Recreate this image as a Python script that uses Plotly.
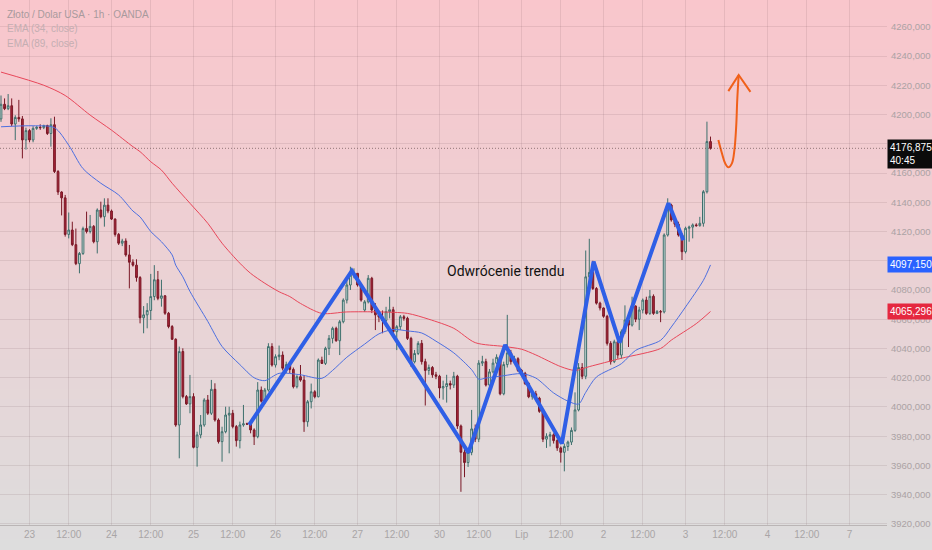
import plotly.graph_objects as go

# hourly candles, index 0..199 (open, high, low, close)
opens = [
    4197, 4207, 4204, 4206, 4193.5, 4198, 4197, 4182.6, 4189, 4182.6,
    4190.5, 4191.3, 4191, 4192.5, 4187, 4193, 4161, 4147, 4143, 4118,
    4121, 4111, 4098, 4105, 4122, 4120, 4123.5, 4113, 4134.7, 4130.1,
    4138, 4134, 4128.5, 4118, 4112, 4113.5, 4104, 4099, 4097, 4088.5,
    4061, 4063, 4066, 4075.5, 4087, 4074.3, 4076, 4064.1, 4055, 4046.3,
    3987.7, 4037.9, 4007.1, 4002.1, 4007.1, 3972.4, 3980.9, 3987.7, 4004.8, 3995.7,
    4012.1, 3991.1, 3976.3, 3983.1, 3994.5, 3995.7, 3986.6, 3977, 3987.7, 3988.5,
    3988.3, 3984.3, 3979.7, 4011.6, 4004, 4011.6, 4041.3, 4028.7, 4034.4, 4035.5,
    4026.5, 4029, 4025.7, 4013.9, 4020.7, 4018.4, 3989.9, 4003.6, 4010.4, 4007,
    4032.1, 4029.8, 4040.1, 4046.9, 4053.8, 4045.3, 4058.3, 4073.1, 4083.4, 4090.2,
    4091.4, 4083.4, 4066.3, 4071.9, 4088, 4066.3, 4063, 4061.5, 4059.2, 4065.2,
    4066.5, 4051.5, 4054.9, 4061.7, 4060.6, 4046.9, 4030.9, 4036.6, 4043.5, 4031,
    4025, 4027, 4022, 4021, 4013, 4014, 4016, 4015, 4021, 3987,
    3969, 3962, 3969, 3985, 3978, 4030, 4031, 4015, 4024, 4030,
    4034, 4009, 4029, 4037, 4031, 4033, 4025, 4023, 4016, 4007,
    4009, 4006, 3997, 3978, 3980, 3981, 3977, 3972, 3969, 3973,
    3976, 3984, 3998, 4027, 4021, 4089, 4092, 4081, 4071, 4067.7,
    4062, 4043.5, 4031, 4044.6, 4035.5, 4051.5, 4059.5, 4056, 4069, 4060,
    4066.3, 4073.1, 4064, 4075.7, 4064, 4065.2, 4065, 4117.6, 4138.1, 4127.9,
    4125, 4117.6, 4106.2, 4122.2, 4123, 4124.5, 4124, 4125.6, 4147.2, 4181.5,
]
highs = [
    4213, 4211, 4214, 4211, 4199.5, 4210, 4199, 4191, 4190, 4192,
    4192, 4193.3, 4193, 4193, 4197.4, 4198.5, 4162, 4147.5, 4145, 4133,
    4126.7, 4122, 4106, 4123.3, 4133.6, 4131.3, 4124.4, 4135.8, 4140.4, 4142.7,
    4142.7, 4135, 4129, 4119, 4115, 4115.3, 4110.8, 4101, 4101, 4089.5,
    4069, 4071, 4091, 4097, 4093, 4087, 4076.5, 4065, 4056, 4047,
    4041.3, 4040.1, 4008.2, 4021.9, 4009.4, 3983.1, 3994.5, 4006, 4008.2, 4018.5,
    4016.2, 3992.2, 3986.5, 4000.2, 4000.2, 3998, 3987.7, 3990, 4001.4, 3989.3,
    3990, 3985.4, 4017, 4014, 4013, 4043.6, 4043.6, 4036, 4042, 4038,
    4031, 4030, 4027, 4021.8, 4028.7, 4021.8, 4004.8, 4016, 4011.5, 4033.2,
    4034.4, 4041.2, 4049.2, 4054.9, 4054.9, 4059.5, 4074.3, 4086.8, 4095.9, 4094.8,
    4091.4, 4084.5, 4073.1, 4090.2, 4089, 4071, 4066, 4066, 4068.5, 4075.4,
    4068.5, 4056, 4062.9, 4063, 4061.7, 4048, 4039, 4045, 4045.8, 4033,
    4029, 4028, 4024, 4022, 4018, 4022, 4018, 4024, 4022, 3988,
    3971, 3972, 3998, 3988, 4032, 4035, 4033, 4026, 4033, 4036,
    4035, 4031, 4063, 4039, 4035, 4034, 4026, 4024, 4017, 4011,
    4011, 4007, 3998, 3982, 3983, 3982, 3978, 3973, 3975, 3977,
    3986, 4010, 4030, 4030, 4107, 4115, 4100, 4082, 4072, 4068,
    4063, 4045, 4046, 4046, 4053, 4069.5, 4061.5, 4075.4, 4069.5, 4068.5,
    4074.2, 4075.4, 4080, 4077, 4066.3, 4066.3, 4118.7, 4142.7, 4139, 4129,
    4126.7, 4118.7, 4123.3, 4124, 4125.5, 4125.6, 4130, 4148.3, 4195.1, 4184.9,
]
lows = [
    4195, 4203, 4203, 4192, 4182.5, 4195, 4170, 4176, 4181, 4181,
    4189.5, 4189.5, 4190, 4186, 4178, 4160, 4145, 4131, 4116.5, 4115.3,
    4110, 4097, 4091.4, 4104, 4118.7, 4118.7, 4111.9, 4105, 4129, 4123.3,
    4132.5, 4127.9, 4116.5, 4110.8, 4110, 4102.8, 4081.1, 4096, 4085.7, 4057.2,
    4050.4, 4053.8, 4059.5, 4073, 4073, 4068.6, 4063, 4053.8, 4045.8, 3986.5,
    3964.9, 4005.9, 4001.4, 3995.7, 3971.7, 3959.2, 3978.6, 3986.5, 3994.5, 3994.5,
    3990, 3975, 3962.6, 3982, 3968.3, 3985.4, 3972.9, 3971.7, 3986.5, 3987.7,
    3982, 3974, 3978.6, 4003, 4002, 4010.5, 4027.6, 4027, 4032, 4025,
    4023, 4023, 4012.7, 4012.7, 4017.3, 3983, 3986.5, 3999, 4005.9, 4006.6,
    4029.4, 4028.7, 4035.5, 4043.5, 4044.6, 4035.5, 4057.2, 4070.8, 4080, 4088,
    4082.3, 4072, 4065, 4070.8, 4064.2, 4052.6, 4058, 4050.4, 4054.9, 4060.6,
    4049.2, 4038.9, 4052.6, 4059, 4045.8, 4027.5, 4029.8, 4035.5, 4029, 4001,
    4022, 4020, 4019, 4006, 4005, 4003, 4012, 4013, 3985, 3942,
    3952, 3959, 3967, 3976, 3976, 4028, 4014, 4013, 4023, 4029,
    4008, 4008, 4027, 4029, 4030, 4024, 4022, 4015, 4006, 4005,
    4004, 3996, 3976, 3972, 3973, 3975, 3970, 3962, 3956, 3970,
    3974, 3983, 3997, 4019, 4019, 4086, 4080, 4070, 4066, 4061,
    4042, 4029, 4030, 4033, 4033, 4050, 4041, 4055, 4058, 4052.6,
    4064, 4063, 4063, 4063, 4063.5, 4058, 4064, 4116.5, 4126.7, 4123,
    4116.5, 4100.5, 4105, 4113, 4115.3, 4123.3, 4123.3, 4123.3, 4146, 4176,
]
closes = [
    4207, 4204, 4206, 4193.5, 4198, 4197, 4182.6, 4189, 4182.6, 4190.5,
    4191.3, 4191, 4192.5, 4187, 4193, 4161, 4147, 4143, 4118, 4121,
    4111, 4098, 4105, 4122, 4120, 4123.5, 4113, 4134.7, 4130.1, 4138,
    4134, 4128.5, 4118, 4112, 4113.5, 4104, 4099, 4097, 4088.5, 4061,
    4063, 4066, 4075.5, 4087, 4074.3, 4076, 4064.1, 4055, 4046.3, 3987.7,
    4037.9, 4007.1, 4002.1, 4007.1, 3972.4, 3980.9, 3987.7, 4004.8, 3995.7, 4012.1,
    3991.1, 3976.3, 3983.1, 3994.5, 3995.7, 3986.6, 3977, 3987.7, 3988.5, 3988.3,
    3984.3, 3979.7, 4011.6, 4004, 4011.6, 4041.3, 4028.7, 4034.4, 4035.5, 4026.5,
    4029, 4025.7, 4013.9, 4020.7, 4018.4, 3989.9, 4003.6, 4010.4, 4007, 4032.1,
    4029.8, 4040.1, 4046.9, 4053.8, 4045.3, 4058.3, 4073.1, 4083.4, 4090.2, 4091.4,
    4083.4, 4073.1, 4071.9, 4088, 4066.3, 4063, 4061.5, 4059.2, 4065.2, 4066.5,
    4051.5, 4054.9, 4061.7, 4060.6, 4046.9, 4030.9, 4036.6, 4043.5, 4031, 4025,
    4027, 4022, 4021, 4013, 4014, 4016, 4015, 4021, 3987, 3969,
    3962, 3969, 3985, 3978, 4030, 4031, 4015, 4024, 4030, 4034,
    4009, 4029, 4037, 4031, 4033, 4025, 4023, 4016, 4007, 4009,
    4006, 3997, 3978, 3980, 3981, 3977, 3972, 3969, 3973, 3976,
    3984, 3998, 4027, 4021, 4089, 4092, 4081, 4071, 4067.7, 4062,
    4043.5, 4031, 4044.6, 4035.5, 4051.5, 4059.5, 4056, 4069, 4060, 4066.3,
    4073.1, 4064, 4075.7, 4064, 4065.2, 4065, 4117.6, 4138.1, 4127.9, 4125,
    4117.6, 4106.2, 4122.2, 4123, 4124.5, 4124, 4125.6, 4147.2, 4181.5, 4176.875,
]

# EMA lines (candle index, value)
ema34_idx = [0, 9, 15, 19, 23, 28, 33, 37, 39, 42, 45, 48, 49, 51, 53, 58, 62, 67, 71, 74,
             78, 84, 90, 93, 97, 102, 106, 110, 114, 118, 122, 127, 132, 134, 136, 141, 146, 150, 155, 159,
             162, 164, 167, 174, 178, 185, 188, 192, 197, 199]
ema34 = [4191.6, 4192.3, 4191, 4179, 4163, 4153, 4145, 4134, 4130, 4120, 4113, 4104, 4097, 4089, 4079, 4058.5, 4041.4, 4029, 4020, 4018,
         4023, 4022, 4019.6, 4025, 4034, 4043, 4050, 4053, 4052, 4050.6, 4045, 4037, 4025.5, 4019, 4019.8, 4021.4, 4022.8, 4019.8, 4009.6, 4004,
         4002, 4010, 4020.5, 4029.6, 4038.7, 4045.6, 4054.7, 4068.4, 4086.6, 4097.15]
ema89_idx = [0, 12, 18, 25, 31, 37, 39, 42, 45, 48, 53, 58, 62, 67, 70, 74, 78, 81, 84, 90,
             97, 106, 114, 120, 127, 133, 141, 146, 150, 157, 161, 165, 174, 185, 188, 195, 199]
ema89 = [4229, 4220, 4213, 4199.6, 4189.3, 4178, 4174.6, 4167.7, 4162, 4153, 4139.3, 4125.6, 4112, 4098.3, 4091.4, 4084.6, 4078.8, 4075.5, 4070.8, 4064,
         4065, 4065, 4064, 4060, 4053.8, 4044, 4041.4, 4039.5, 4035.6, 4027.6, 4025, 4027.6, 4033.3, 4040, 4045.7, 4057, 4065.3]

# hand drawn zigzag and arrow
zz_idx = [69.6, 98.4, 131.1, 141.4, 157.3, 166.2, 173.5, 187.2, 191.4]
zz_val = [3987.7, 4093, 3968.8, 4042.4, 3975, 4099.4, 4044, 4139.3, 4114]
arrow_idx = [201.2, 202.2, 203.1, 204.0, 205.0, 205.7, 206.2, 206.5, 206.9]
arrow_val = [4182.6, 4173.5, 4166.6, 4163.9, 4166.6, 4175.7, 4191.7, 4209.9, 4227.0]
head_idx = [204.0, 206.9, 210.2]
head_val = [4216.0, 4227.0, 4215.5]

# axis ticks
x_tickvals = [8, 19, 31, 42, 54, 65, 77, 88, 100, 111, 123, 134, 146, 157, 169, 180, 192, 203, 215, 226, 238]
x_ticktext = ["23", "12:00", "24", "12:00", "25", "12:00", "26", "12:00", "27", "12:00", "30",
              "12:00", "Lip", "12:00", "2", "12:00", "3", "12:00", "4", "12:00", "7"]
y_tickvals = list(range(3920, 4261, 20))

last_price = 4176.875
ema34_last = 4097.150
ema89_last = 4065.296

W, H = 932, 550
ML, MR, MT, MB = 0, 45, 0, 25
FONT = "Liberation Sans Narrow, Liberation Sans, Arial"

fig = go.Figure()

fig.add_trace(go.Scatter(x=ema89_idx, y=ema89, mode="lines",
                         line=dict(color="#e8475a", width=1, shape="spline", smoothing=0.8),
                         hoverinfo="skip", showlegend=False))
fig.add_trace(go.Scatter(x=ema34_idx, y=ema34, mode="lines",
                         line=dict(color="#4d6fe0", width=1, shape="spline", smoothing=0.8),
                         hoverinfo="skip", showlegend=False))

fig.add_trace(go.Candlestick(
    x=list(range(len(opens))), open=opens, high=highs, low=lows, close=closes,
    increasing=dict(line=dict(color="#3d6f6c", width=1), fillcolor="#e2ebe9"),
    decreasing=dict(line=dict(color="#7a1826", width=1), fillcolor="#a82438"),
    whiskerwidth=0, showlegend=False, hoverinfo="skip"))

fig.add_trace(go.Scatter(x=zz_idx, y=zz_val, mode="lines",
                         line=dict(color="#2f5fe6", width=4),
                         hoverinfo="skip", showlegend=False))
fig.add_trace(go.Scatter(x=arrow_idx, y=arrow_val, mode="lines",
                         line=dict(color="#f0601a", width=2, shape="spline"),
                         hoverinfo="skip", showlegend=False))
fig.add_trace(go.Scatter(x=head_idx, y=head_val, mode="lines",
                         line=dict(color="#f0601a", width=2),
                         hoverinfo="skip", showlegend=False))

# background gradient (pink -> grey), drawn as thin bands behind everything
plot_h = H - MT - MB
plot_w = W - ML - MR
n_bands = 55
top_rgb = (249, 198, 204)
bot_rgb = (221, 221, 221)
for k in range(n_bands):
    py0 = k * H / n_bands
    py1 = (k + 1) * H / n_bands
    t = (py0 + py1) / 2 / H
    col = tuple(round(a + (b - a) * t) for a, b in zip(top_rgb, bot_rgb))
    fig.add_shape(type="rect", xref="paper", yref="paper",
                  x0=-0.01, x1=W / plot_w + 0.01,
                  y0=(plot_h + MT - py1 - 0.5) / plot_h, y1=(plot_h + MT - py0 + 0.5) / plot_h,
                  fillcolor="rgb(%d,%d,%d)" % col, line=dict(width=0), layer="below")

# last price dotted line
fig.add_shape(type="line", xref="paper", yref="y", x0=0, x1=1, y0=last_price, y1=last_price,
              line=dict(color="rgba(80,60,60,0.6)", width=1, dash="1px,2px"), layer="above")

# price labels on the right scale
fig.add_annotation(xref="paper", yref="y", x=1, y=last_price, xanchor="left", yanchor="middle",
                   yshift=-6, text="4176,875<br>40:45", showarrow=False, align="left",
                   bgcolor="#0b0b0b", borderpad=2, font=dict(family=FONT, size=10, color="white"))
fig.add_annotation(xref="paper", yref="y", x=1, y=ema34_last, xanchor="left", yanchor="middle",
                   text=f"{ema34_last:.3f}".replace(".", ","), showarrow=False,
                   bgcolor="#2962ff", borderpad=2, font=dict(family=FONT, size=10, color="white"))
fig.add_annotation(xref="paper", yref="y", x=1, y=ema89_last, xanchor="left", yanchor="middle",
                   text=f"{ema89_last:.3f}".replace(".", ","), showarrow=False,
                   bgcolor="#e5283f", borderpad=2, font=dict(family=FONT, size=10, color="white"))

# chart text
fig.add_annotation(x=141.6, y=4093, text="Odwrócenie trendu", showarrow=False,
                   font=dict(family="Roboto, Liberation Sans", size=14, color="#111111"))

legend_lines = [("Złoto / Dolar USA · 1h · OANDA", "#a89a9d"),
                ("EMA (34, close)", "#c4aeb2"),
                ("EMA (89, close)", "#c4aeb2")]
for n, (txt, col) in enumerate(legend_lines):
    fig.add_annotation(xref="paper", yref="paper", x=0, y=1, xanchor="left", yanchor="middle",
                       xshift=5, yshift=-14 - 14.5 * n, text=txt, showarrow=False,
                       font=dict(family=FONT, size=10, color=col))

fig.update_layout(
    width=W, height=H,
    margin=dict(l=ML, r=MR, t=MT, b=MB),
    paper_bgcolor="rgb(221,221,221)", plot_bgcolor="rgba(0,0,0,0)",
    xaxis=dict(range=[-0.28, 248.5], tickvals=x_tickvals, ticktext=x_ticktext,
               showgrid=True, gridcolor="rgba(110,80,85,0.13)", gridwidth=1,
               zeroline=False, showline=True, linecolor="rgba(120,110,110,0.35)",
               ticks="", rangeslider=dict(visible=False), automargin=False,
               tickfont=dict(family=FONT, size=10, color="#a9a5a6")),
    yaxis=dict(range=[3919.3, 4278.3], side="right", tickvals=y_tickvals,
               ticktext=[f"{v:.3f}".replace(".", ",") for v in y_tickvals],
               showgrid=True, gridcolor="rgba(110,80,85,0.13)", gridwidth=1,
               zeroline=False, ticks="", ticklabelstandoff=3, automargin=False,
               tickfont=dict(family=FONT, size=9.5, color="#aba2a4")),
)

# page body margin would shift the chart, so drop it
fig.write_html("out.html", config={"displayModeBar": False},
               post_script="document.body.style.margin='0';")
